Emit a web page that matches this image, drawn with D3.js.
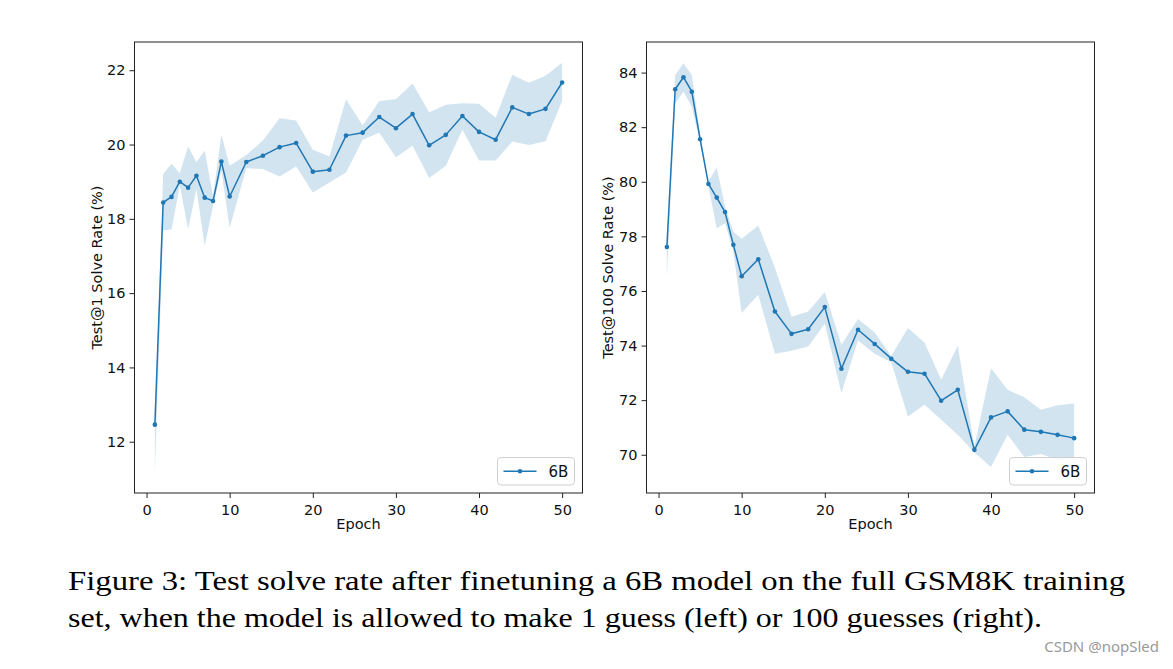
<!DOCTYPE html>
<html>
<head>
<meta charset="utf-8">
<script src="https://cdn.jsdelivr.net/npm/d3@7"></script>
<style>
  html, body { margin: 0; padding: 0; background: #fff; }
  svg { display: block; }
</style>
</head>
<body>
<svg id="chart" width="1173" height="669"></svg>
<script>
// ---------- DATA ----------
const epochs = [1,2,3,4,5,6,7,8,9,10,12,14,16,18,20,22,24,26,28,30,32,34,36,38,40,42,44,46,48,50];

const test1Mean = [12.46,18.44,18.59,19.00,18.84,19.16,18.57,18.48,19.54,18.60,19.53,19.70,19.93,20.04,19.27,19.32,20.24,20.32,20.74,20.44,20.82,19.98,20.26,20.77,20.34,20.13,21.00,20.82,20.96,21.67];
const test1Low  = [11.20,17.69,17.71,18.90,17.72,18.80,17.27,18.35,19.30,17.76,19.36,19.34,19.14,19.41,18.71,18.98,19.25,20.13,20.32,19.66,19.97,19.10,19.43,20.40,19.57,19.57,20.08,19.99,20.09,21.17];
const test1High = [12.60,19.21,19.48,19.23,19.95,19.52,19.84,18.60,20.27,19.43,19.72,20.11,20.71,20.65,19.86,19.68,21.22,20.51,21.17,21.22,21.64,20.87,21.07,21.11,21.10,20.72,21.88,21.66,21.85,22.20];

const test100Mean = [77.61,83.39,83.83,83.30,81.56,79.92,79.42,78.89,77.69,76.54,77.16,75.25,74.43,74.60,75.41,73.15,74.58,74.06,73.52,73.04,72.97,71.98,72.38,70.18,71.37,71.59,70.92,70.84,70.73,70.61];
const test100Low  = [76.50,82.88,83.30,82.75,81.41,79.82,78.30,78.48,77.44,75.19,75.86,73.70,73.81,73.97,74.80,72.26,74.19,73.70,73.39,71.40,71.83,71.28,70.73,70.08,69.55,70.73,69.92,70.03,69.82,69.88];
const test100High = [77.70,83.91,84.34,83.91,81.72,80.01,80.52,79.09,78.18,77.91,78.40,76.85,75.06,75.25,75.96,74.03,74.97,74.48,73.62,74.64,74.11,72.75,73.99,70.30,73.17,72.38,72.11,71.65,71.81,71.88];

const xTicks = [0,10,20,30,40,50];
const yTicksLeft = [12,14,16,18,20,22];
const yTicksRight = [70,72,74,76,78,80,82,84];

const seriesName = "6B";
const xLabel = "Epoch";
const yLabelLeft = "Test@1 Solve Rate (%)";
const yLabelRight = "Test@100 Solve Rate (%)";
const captionLines = [
  "Figure 3:  Test solve rate after finetuning a 6B model on the full GSM8K training",
  "set, when the model is allowed to make 1 guess (left) or 100 guesses (right)."
];
const watermark = "CSDN @nopSled";

// ---------- DRAW ----------
const svg = d3.select("#chart");
const color = "#1f77b4";
const font = "'DejaVu Sans', sans-serif";

function panel(opts) {
  const {left, right, top, bottom, yDomain, yTicks, mean, low, high, ylabel, ylabelX} = opts;
  const x = d3.scaleLinear().domain([-1.45, 52.45]).range([left, right]);
  const y = d3.scaleLinear().domain(yDomain).range([bottom, top]);
  const g = svg.append("g");

  const idx = d3.range(epochs.length);
  const area = d3.area()
    .x(i => x(epochs[i]))
    .y0(i => y(low[i]))
    .y1(i => y(high[i]));
  g.append("path").attr("d", area(idx))
    .attr("fill", color).attr("fill-opacity", 0.2).attr("stroke", "none");

  const line = d3.line().x(i => x(epochs[i])).y(i => y(mean[i]));
  g.append("path").attr("d", line(idx))
    .attr("fill", "none").attr("stroke", color).attr("stroke-width", 1.5)
    .attr("stroke-linejoin", "round");
  g.selectAll("circle.pt").data(idx).enter().append("circle")
    .attr("cx", i => x(epochs[i])).attr("cy", i => y(mean[i]))
    .attr("r", 2.3).attr("fill", color);

  // frame
  g.append("rect").attr("x", left).attr("y", top)
    .attr("width", right - left).attr("height", bottom - top)
    .attr("fill", "none").attr("stroke", "#222").attr("stroke-width", 1);

  // axes
  const xAxis = d3.axisBottom(x).tickValues(xTicks).tickSize(5).tickPadding(4);
  const gx = g.append("g").attr("transform", `translate(0,${bottom})`).call(xAxis);
  const yAxis = d3.axisLeft(y).tickValues(yTicks).tickSize(5).tickPadding(4);
  const gy = g.append("g").attr("transform", `translate(${left},0)`).call(yAxis);
  [gx, gy].forEach(a => {
    a.select(".domain").remove();
    a.selectAll("line").attr("stroke", "#222");
    a.selectAll("text").attr("font-family", font).attr("font-size", 14.5).attr("fill", "#111");
  });
  gx.selectAll("text").attr("dy", "0.9em");

  g.append("text").attr("x", (left + right) / 2).attr("y", bottom + 36)
    .attr("text-anchor", "middle").attr("font-family", font).attr("font-size", 14.5)
    .attr("fill", "#111").text(xLabel);
  g.append("text")
    .attr("transform", `translate(${ylabelX},${(top + bottom) / 2}) rotate(-90)`)
    .attr("text-anchor", "middle").attr("font-family", font).attr("font-size", 14.5)
    .attr("fill", "#111").text(ylabel);

  // legend
  const lx = right - 85, ly = bottom - 35.5, lw = 77, lh = 27.5;
  const lg = g.append("g");
  lg.append("rect").attr("x", lx).attr("y", ly).attr("width", lw).attr("height", lh)
    .attr("rx", 3.5).attr("fill", "#fff").attr("fill-opacity", 0.8)
    .attr("stroke", "#d0d0d0").attr("stroke-width", 1);
  lg.append("line").attr("x1", lx + 6).attr("x2", lx + 39)
    .attr("y1", ly + lh / 2).attr("y2", ly + lh / 2)
    .attr("stroke", color).attr("stroke-width", 1.5);
  lg.append("circle").attr("cx", lx + 22.5).attr("cy", ly + lh / 2).attr("r", 2.3).attr("fill", color);
  lg.append("text").attr("x", lx + 51).attr("y", ly + lh / 2 + 5.5)
    .attr("font-family", font).attr("font-size", 15).attr("fill", "#111").text(seriesName);
}

panel({left: 134.5, right: 582.5, top: 42, bottom: 493,
  yDomain: [10.62, 22.76], yTicks: yTicksLeft,
  mean: test1Mean, low: test1Low, high: test1High,
  ylabel: yLabelLeft, ylabelX: 102});

panel({left: 646.5, right: 1094.5, top: 42, bottom: 493,
  yDomain: [68.6, 85.12], yTicks: yTicksRight,
  mean: test100Mean, low: test100Low, high: test100High,
  ylabel: yLabelRight, ylabelX: 613});

// caption
const capFont = "'Liberation Serif', 'DejaVu Serif', serif";
svg.append("text").attr("x", 68).attr("y", 590)
  .attr("font-family", capFont).attr("font-size", 28).attr("fill", "#000")
  .attr("textLength", 1057).attr("lengthAdjust", "spacingAndGlyphs")
  .text(captionLines[0]);
svg.append("text").attr("x", 68).attr("y", 627)
  .attr("font-family", capFont).attr("font-size", 28).attr("fill", "#000")
  .attr("textLength", 974).attr("lengthAdjust", "spacingAndGlyphs")
  .text(captionLines[1]);
svg.append("text").attr("x", 1159).attr("y", 652)
  .attr("text-anchor", "end")
  .attr("font-family", "'Noto Sans', 'DejaVu Sans', sans-serif").attr("font-size", 15)
  .attr("fill", "#9a9a9a").text(watermark);
</script>
</body>
</html>
